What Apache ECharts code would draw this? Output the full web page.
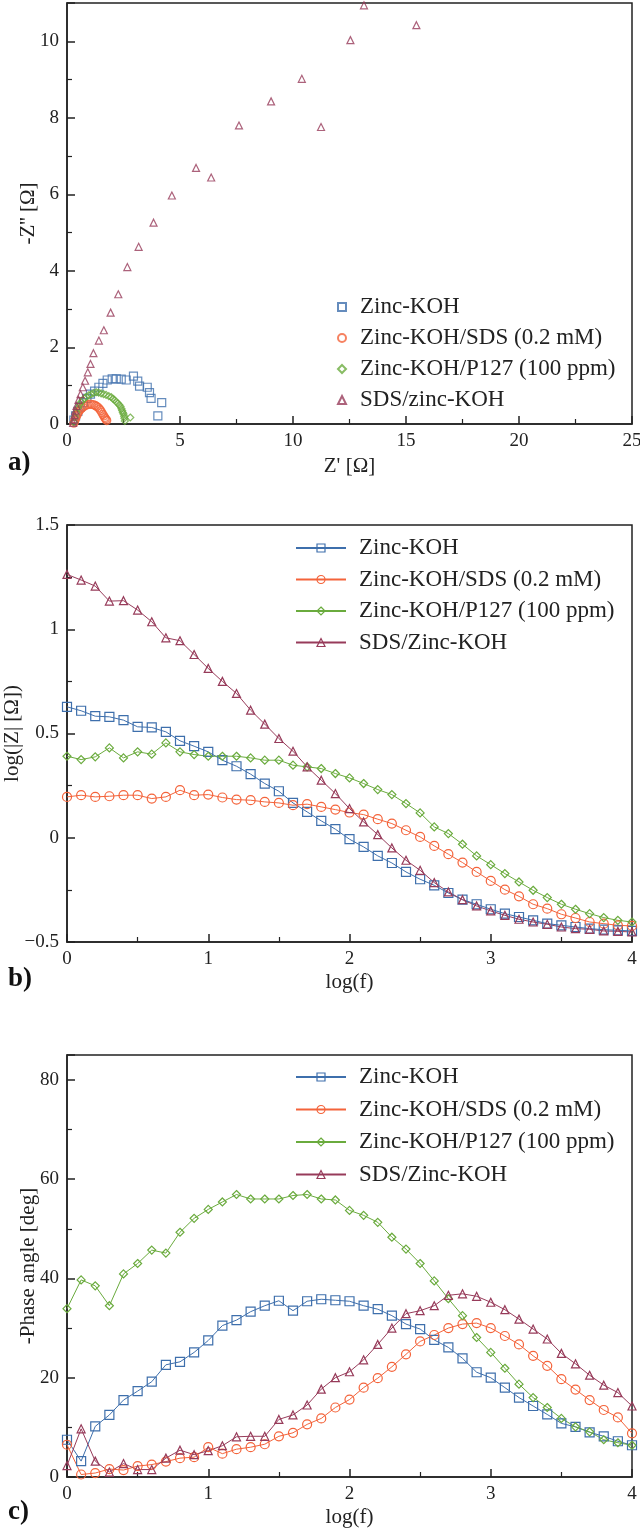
<!DOCTYPE html>
<html><head><meta charset="utf-8">
<script src="https://cdn.jsdelivr.net/npm/echarts/dist/echarts.min.js"></script>
<style>html,body{margin:0;padding:0;background:#fff}#c{width:640px;height:1533px}</style>
</head><body><div id="c"></div>
<script>
// ---------- DATA ----------
const legendNamesA = ['Zinc-KOH', 'Zinc-KOH/SDS (0.2 mM)', 'Zinc-KOH/P127 (100 ppm)', 'SDS/zinc-KOH'];
const legendNamesBC = ['Zinc-KOH', 'Zinc-KOH/SDS (0.2 mM)', 'Zinc-KOH/P127 (100 ppm)', 'SDS/Zinc-KOH'];

// Panel a: Nyquist  [Z', -Z'']
const nyqZincKOH = [[0.3,0.1],[0.38,0.21],[0.48,0.33],[0.58,0.44],[0.73,0.56],[0.88,0.67],[1.04,0.78],[1.22,0.86],[1.41,0.96],[1.59,1.06],[1.78,1.15],[2.0,1.18],[2.18,1.18],[2.4,1.17],[2.62,1.15],[2.94,1.25],[3.13,1.12],[3.21,0.99],[3.55,0.96],[3.65,0.82],[3.72,0.67],[4.19,0.56],[4.02,0.21]];
const nyqSDS = [[0.3,0.02],[0.33,0.06],[0.37,0.12],[0.41,0.19],[0.45,0.24],[0.48,0.28],[0.53,0.33],[0.58,0.37],[0.64,0.41],[0.7,0.44],[0.77,0.47],[0.85,0.49],[0.94,0.51],[1.03,0.52],[1.11,0.51],[1.19,0.5],[1.26,0.48],[1.32,0.46],[1.38,0.43],[1.44,0.39],[1.49,0.35],[1.54,0.3],[1.59,0.25],[1.63,0.21],[1.67,0.17],[1.7,0.14],[1.74,0.11],[1.76,0.09]];
const nyqP127 = [[0.3,0.05],[0.35,0.18],[0.41,0.3],[0.48,0.42],[0.55,0.5],[0.62,0.57],[0.7,0.63],[0.77,0.67],[0.85,0.71],[0.96,0.75],[1.07,0.78],[1.18,0.81],[1.29,0.83],[1.4,0.82],[1.51,0.8],[1.62,0.78],[1.73,0.76],[1.85,0.73],[1.96,0.7],[2.03,0.66],[2.1,0.63],[2.18,0.58],[2.25,0.54],[2.31,0.5],[2.37,0.46],[2.41,0.4],[2.44,0.35],[2.47,0.3],[2.5,0.26],[2.53,0.2],[2.54,0.15],[2.56,0.08],[2.8,0.17]];
const nyqSDSzinc = [[0.27,0.03],[0.3,0.12],[0.33,0.23],[0.37,0.35],[0.42,0.47],[0.51,0.63],[0.6,0.78],[0.7,0.96],[0.8,1.13],[0.92,1.35],[1.04,1.57],[1.17,1.85],[1.41,2.18],[1.63,2.45],[1.93,2.91],[2.27,3.39],[2.67,4.1],[3.17,4.63],[3.83,5.26],[4.64,5.97],[5.71,6.69],[6.38,6.44],[7.61,7.8],[9.03,8.43],[10.39,9.02],[11.24,7.76],[12.54,10.03],[13.14,10.94],[15.46,10.42]];

// Panels b, c: x = log(f)
const logf = [0,0.1,0.2,0.3,0.4,0.5,0.6,0.7,0.8,0.9,1.0,1.1,1.2,1.3,1.4,1.5,1.6,1.7,1.8,1.9,2.0,2.1,2.2,2.3,2.4,2.5,2.6,2.7,2.8,2.9,3.0,3.1,3.2,3.3,3.4,3.5,3.6,3.7,3.8,3.9,4.0];

// Panel b: log(|Z|)
const absZincKOH = [0.628,0.609,0.583,0.58,0.564,0.532,0.529,0.508,0.465,0.439,0.412,0.372,0.343,0.305,0.26,0.223,0.167,0.124,0.081,0.041,-0.007,-0.044,-0.087,-0.121,-0.164,-0.199,-0.228,-0.265,-0.297,-0.319,-0.343,-0.364,-0.38,-0.396,-0.412,-0.42,-0.428,-0.436,-0.441,-0.444,-0.447];
const absSDS = [0.196,0.204,0.196,0.199,0.204,0.204,0.188,0.196,0.228,0.204,0.207,0.193,0.183,0.18,0.172,0.167,0.156,0.161,0.148,0.135,0.121,0.111,0.089,0.068,0.036,0.004,-0.039,-0.079,-0.119,-0.164,-0.207,-0.249,-0.281,-0.319,-0.34,-0.367,-0.385,-0.404,-0.412,-0.42,-0.423];
const absP127 = [0.391,0.375,0.388,0.431,0.383,0.412,0.401,0.455,0.412,0.399,0.391,0.391,0.391,0.383,0.372,0.372,0.348,0.34,0.332,0.308,0.287,0.26,0.231,0.207,0.164,0.119,0.052,0.02,-0.031,-0.087,-0.129,-0.172,-0.212,-0.252,-0.287,-0.319,-0.343,-0.364,-0.383,-0.396,-0.404];
const absSDSzinc = [1.263,1.236,1.207,1.135,1.137,1.092,1.036,0.959,0.945,0.879,0.812,0.75,0.692,0.612,0.545,0.476,0.415,0.34,0.276,0.212,0.14,0.076,0.015,-0.049,-0.108,-0.156,-0.215,-0.26,-0.297,-0.327,-0.351,-0.372,-0.391,-0.404,-0.415,-0.428,-0.436,-0.439,-0.447,-0.449,-0.452];

// Panel c: -phase angle
const phZincKOH = [7.5,3.2,10.2,12.5,15.5,17.3,19.2,22.6,23.2,25.1,27.5,30.5,31.6,33.3,34.5,35.5,33.5,35.4,35.8,35.6,35.4,34.5,33.8,32.5,30.8,29.8,27.6,26.1,23.9,21.1,20.0,18.0,16.0,14.3,12.6,10.8,10.1,9.0,8.2,7.2,6.4];
const phSDS = [6.5,0.5,0.8,1.6,1.4,2.2,2.5,3.1,3.8,4.0,6.0,4.7,5.6,6.0,6.6,8.2,8.9,10.6,11.8,14.0,15.6,18.0,19.9,22.2,24.7,27.3,28.6,30.0,30.8,31.0,30.0,28.4,26.7,24.4,22.4,19.7,17.6,15.5,13.5,12.0,8.8];
const phP127 = [33.9,39.7,38.5,34.5,40.9,43.0,45.7,45.1,49.3,52.1,53.9,55.4,56.9,56.0,56.0,56.0,56.7,56.9,56.0,55.8,53.7,52.7,51.3,48.3,45.9,43.0,39.5,35.9,32.5,28.1,25.1,21.9,18.7,16.0,14.0,11.8,10.1,9.1,7.5,6.9,6.4];
const phSDSzinc = [2.3,9.7,3.2,1.0,2.7,1.5,1.5,3.8,5.4,4.5,5.3,6.3,8.1,8.2,8.2,11.6,12.5,14.5,17.7,20.0,21.2,23.6,26.7,30.0,32.9,33.5,34.5,36.6,36.9,36.4,35.2,33.7,31.8,29.8,27.8,24.9,22.8,20.5,18.5,17.0,14.3];

// ---------- STYLE ----------
const FONT = '"Liberation Serif", "Times New Roman", serif';
const INK = '#222';
const colors = ['#3e6fac', '#f4633a', '#6aab3d', '#973b5a'];
const symbols = ['rect', 'circle', 'diamond', 'triangle'];

function fmtNum(v) { return v < 0 ? '\u2212' + Math.abs(v) : String(v); }

function axis(gridIndex, min, max, interval, opts) {
  return Object.assign({
    gridIndex, type: 'value', min, max, interval,
    axisLine: { show: true, onZero: false, lineStyle: { color: INK, width: 1.5 } },
    axisTick: { show: true, inside: true, length: 8, lineStyle: { color: INK, width: 1.5 } },
    minorTick: { show: true, splitNumber: 2, length: 5, lineStyle: { color: INK, width: 1.2 } },
    splitLine: { show: false },
    axisLabel: { color: INK, fontFamily: FONT, fontSize: 19, margin: 8, formatter: fmtNum },
    nameLocation: 'middle',
    nameMoveOverlap: false,
    nameTextStyle: { color: INK, fontFamily: FONT, fontSize: 21 }
  }, opts || {});
}

const grids = [
  { left: 67, top: 3, width: 565, height: 421 },
  { left: 67, top: 525, width: 565, height: 417 },
  { left: 67, top: 1055, width: 565, height: 422 }
].map(g => Object.assign(g, { show: true, borderColor: INK, borderWidth: 1.5, backgroundColor: 'transparent', containLabel: false, outerBoundsMode: 'none' }));

const xAxes = [
  axis(0, 0, 25, 5, { name: "Z' [\u03A9]", nameGap: 32 }),
  axis(1, 0, 4, 1, { name: 'log(f)', nameGap: 30 }),
  axis(2, 0, 4, 1, { name: 'log(f)', nameGap: 30 })
];
const yAxes = [
  axis(0, 0, 11, 2, { name: "-Z'' [\u03A9]", nameGap: 28,
    axisLabel: { color: INK, fontFamily: FONT, fontSize: 19, margin: 8, formatter: v => (v % 2 === 0 ? String(v) : '') } }),
  axis(1, -0.5, 1.5, 0.5, { name: 'log(|Z| [\u03A9])', nameGap: 44 }),
  axis(2, 0, 85, 20, { name: '-Phase angle [deg]', nameGap: 28,
    axisLabel: { color: INK, fontFamily: FONT, fontSize: 19, margin: 8, formatter: v => (v % 20 === 0 ? String(v) : '') } })
];

const series = [];
const nyqData = [nyqZincKOH, nyqSDS, nyqP127, nyqSDSzinc];
const nyqSizes = [8, 8, 7, 7];
nyqData.forEach((d, i) => {
  series.push({
    name: 'a:' + legendNamesA[i], type: 'scatter', xAxisIndex: 0, yAxisIndex: 0,
    data: d, symbol: symbols[i], symbolSize: nyqSizes[i],
    itemStyle: { color: 'rgba(255,255,255,0)', borderColor: colors[i], borderWidth: 1.2 }
  });
});
const bData = [absZincKOH, absSDS, absP127, absSDSzinc];
const cData = [phZincKOH, phSDS, phP127, phSDSzinc];
const lineSizes = [9, 9, 8, 8];
[[bData, 1, 'b:'], [cData, 2, 'c:']].forEach(([arrs, gi, pre]) => {
  arrs.forEach((arr, i) => {
    series.push({
      name: pre + legendNamesBC[i], type: 'line', xAxisIndex: gi, yAxisIndex: gi,
      data: logf.map((x, k) => [x, arr[k]]),
      symbol: symbols[i], symbolSize: lineSizes[i], showAllSymbol: true,
      lineStyle: { color: colors[i], width: 1 },
      itemStyle: { color: 'rgba(255,255,255,0)', borderColor: colors[i], borderWidth: 1.2 }
    });
  });
});

function legend(pre, names, left, top, gap, iw, ih, pad, hollow) {
  const lg = {
    orient: 'vertical', left, top, itemGap: gap, itemWidth: iw, itemHeight: ih,
    padding: 0,
    data: names.map(n => pre + n),
    formatter: n => n.slice(2),
    selectedMode: false,
    textStyle: { color: INK, fontFamily: FONT, fontSize: 23, lineHeight: 23, padding: [0, 0, 0, pad] }
  };
  if (hollow) lg.itemStyle = { color: 'rgba(255,255,255,0)', borderWidth: 1.2 };
  return lg;
}

const option = {
  animation: false,
  backgroundColor: '#fff',
  grid: grids,
  xAxis: xAxes,
  yAxis: yAxes,
  legend: [
    legend('a:', legendNamesA, 337, 295.5, 8, 8, 8, 9, false),
    legend('b:', legendNamesBC, 295, 536.5, 8.5, 50, 10, 8, true),
    legend('c:', legendNamesBC, 295, 1065.5, 9.5, 50, 10, 8, true)
  ],
  graphic: [
    { type: 'text', left: 8, top: 450, style: { text: 'a)', font: 'bold 27px "Liberation Serif"', fill: '#111' } },
    { type: 'text', left: 8, top: 966, style: { text: 'b)', font: 'bold 27px "Liberation Serif"', fill: '#111' } },
    { type: 'text', left: 8, top: 1499, style: { text: 'c)', font: 'bold 27px "Liberation Serif"', fill: '#111' } }
  ],
  series
};
const chart = echarts.init(document.getElementById('c'), null, { renderer: 'canvas' });
chart.setOption(option);
</script></body></html>
